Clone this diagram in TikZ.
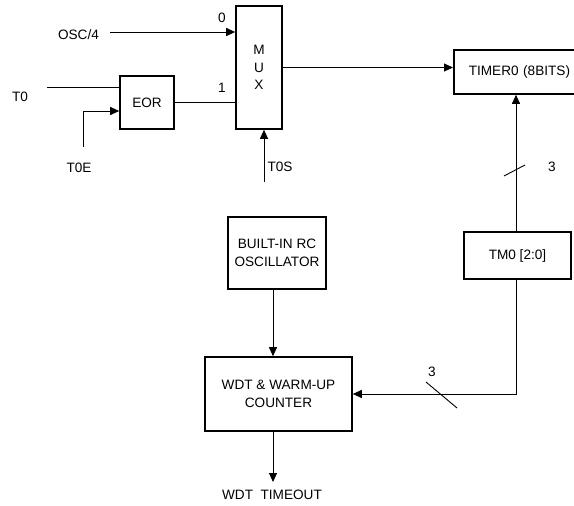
\documentclass[tikz,border=0pt]{standalone}
\usepackage{fontspec}
\setmainfont{Liberation Sans}
\usepackage{tikz}
\usetikzlibrary{positioning,arrows.meta}

\begin{document}
\begin{tikzpicture}[
  x=1pt, y=-1pt,
  block/.style={draw=black, line width=1.6pt, fill=white, inner sep=0pt,
                font=\fontsize{13.6}{17.5}\selectfont, align=center},
  lbl/.style={font=\fontsize{13.6}{17.5}\selectfont, inner sep=0pt},
  arrow/.style={-{Triangle[length=9pt,width=8pt]}, line width=0.9pt},
  wire/.style={line width=0.9pt}
]
\useasboundingbox (0,0) rectangle (574,506);

% blocks
\node[block, minimum width=46, minimum height=123] (mux) at (259,67.5) {M\\U\\X};
\node[block, minimum width=54, minimum height=53] (eor) at (147,102.5) {EOR};
\node[block, anchor=west, inner xsep=15pt, text width=125pt, align=left,
      minimum height=44] (timer) at (453,72) {TIMER0 (8BITS)};
\node[block, minimum width=107, minimum height=47] (tm) at (517.5,255.5) {TM0 [2:0]};
\node[block, minimum width=98, minimum height=72] (osc) at (277,253) {BUILT-IN RC\\OSCILLATOR};
\node[block, minimum width=147, minimum height=74] (wdt) at (278.5,394) {WDT \& WARM-UP\\COUNTER};

% inputs and outputs
\node[lbl] (osc4) at (78.5,35) {OSC/4};
\node[lbl] (t0) at (20,97) {T0};
\node[lbl] (t0e) at (79,168) {T0E};
\node[lbl] (t0s) at (280,167) {T0S};
\node[lbl] (timeout) at (272,495) {WDT\ \ TIMEOUT};
\node[lbl] (sel0) at (222,18) {0};
\node[lbl] (sel1) at (222,88) {1};
\node[lbl] (bus1) at (552,167) {3};
\node[lbl] (bus2) at (432,372) {3};

\coordinate (osc4in) at (110,32);
\coordinate (t0in) at (47,87);
\coordinate (t0ein) at (83,147);
\coordinate (t0sin) at (264,182);
\coordinate (oscout) at (273,289);
\coordinate (wdtout) at (273,431);
\coordinate (tmout) at (273,482);

\draw[arrow] (osc4in) -- (osc4in -| mux.west);
\draw[wire] (t0in) -- (t0in -| eor.west);
\draw[arrow] (t0ein) |- (eor.west |- 0,111);
\draw[wire] (eor.east) -- (eor.east -| mux.west);
\draw[arrow] (t0sin) -- (t0sin |- mux.south);
\draw[arrow] (mux.east) -- (mux.east -| timer.west);
\draw[arrow] (tm.north -| 516,0) -- (timer.south -| 516,0);
\draw[arrow] (tm.south -| 516,0) |- (wdt.east);
\draw[arrow] (oscout) -- (oscout |- wdt.north);
\draw[arrow] (wdtout) -- (tmout);

% bus width marks
\draw[wire] (504,176) -- (525,165);
\draw[wire] (426,382) -- (457,408);

\end{tikzpicture}
\end{document}
